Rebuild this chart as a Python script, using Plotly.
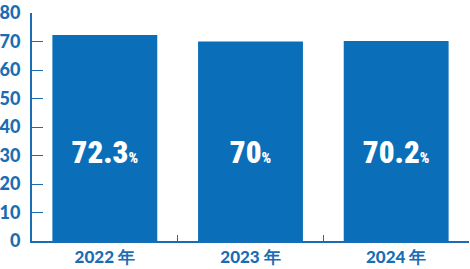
import plotly.graph_objects as go

categories = ["2022 年", "2023 年", "2024 年"]
values = [72.3, 70, 70.2]
labels = ["72.3", "70", "70.2"]
label_level = 30

BLUE = "#0a6fb8"
AXIS = "#1a6db3"

fig = go.Figure()
fig.add_trace(go.Bar(x=categories, y=values, marker=dict(color=BLUE, line=dict(width=0)),
                     width=0.72, hoverinfo="skip"))
fig.add_trace(go.Scatter(
    x=categories, y=[label_level] * len(categories), mode="text",
    text=[f"{t}<span style='font-size:15px'>%</span>" for t in labels],
    textfont=dict(family="Roboto Condensed, Roboto, Noto Sans", size=31, color="white", weight=900),
    hoverinfo="skip"))

fig.update_layout(
    width=470, height=269,
    margin=dict(l=32, r=1, t=13, b=28),
    paper_bgcolor="white", plot_bgcolor="white",
    showlegend=False,
    xaxis=dict(type="category", showline=True, linecolor=AXIS, linewidth=2,
               ticks="inside", tickson="boundaries", ticklen=6, tickcolor=AXIS, tickwidth=1,
               tickfont=dict(family="Lato, Open Sans", size=17, color=AXIS, weight=900),
               showgrid=False, range=[-0.5, 2.5]),
    yaxis=dict(range=[0, 80], dtick=10, showline=True, linecolor=AXIS, linewidth=2,
               ticks="inside", ticklen=11, tickcolor=AXIS, tickwidth=1,
               tickfont=dict(family="Lato, Open Sans", size=18, color=AXIS, weight=900),
               showgrid=False, zeroline=False, ticklabelstandoff=6),
)
fig.write_html("out.html")
